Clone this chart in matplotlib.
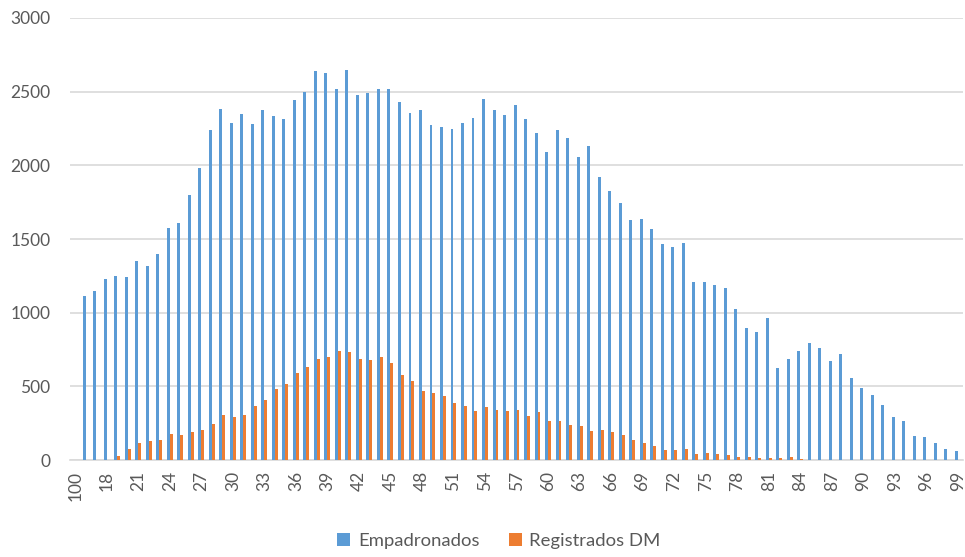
import numpy as np
import matplotlib
matplotlib.use("Agg")
import matplotlib.pyplot as plt

# === Data ===
# categories sorted as text in the source sheet: "100" first, then 16..99
ages = ["100"] + [str(a) for a in range(16, 100)]

empadronados = [
    0,                                                    # 100
    1115, 1145, 1230, 1250, 1240, 1351, 1319, 1399, 1573,  # 16-24
    1609, 1797, 1983, 2237, 2381, 2286, 2349, 2279, 2374,  # 25-33
    2336, 2315, 2444, 2499, 2639, 2628, 2519, 2646, 2478,  # 34-42
    2492, 2521, 2519, 2433, 2356, 2374, 2272, 2261, 2245,  # 43-51
    2288, 2324, 2451, 2379, 2343, 2410, 2315, 2222, 2091,  # 52-60
    2241, 2186, 2057, 2130, 1919, 1829, 1743, 1630, 1634,  # 61-69
    1566, 1464, 1448, 1471, 1211, 1207, 1186, 1166, 1027,  # 70-78
    893, 870, 966, 626, 687, 739, 793, 762, 671,           # 79-87
    721, 558, 490, 442, 374, 292, 263, 163, 158,           # 88-96
    116, 77, 63,                                           # 97-99
]

registrados_dm = [
    0,                                                    # 100
    0, 0, 0, 25, 73, 116, 129, 134, 179,                   # 16-24
    172, 190, 204, 245, 306, 292, 306, 365, 408,           # 25-33
    485, 517, 592, 630, 689, 700, 741, 734, 687,           # 34-42
    678, 698, 657, 578, 537, 469, 456, 433, 385,           # 43-51
    367, 331, 360, 342, 333, 340, 301, 324, 263,           # 52-60
    263, 238, 229, 197, 202, 188, 170, 134, 118,           # 61-69
    97, 70, 68, 75, 41, 48, 39, 34, 22,                    # 70-78
    22, 14, 14, 12, 18, 8, 3, 2, 2,                        # 79-87
    1, 1, 0, 0, 0, 0, 0, 0, 0,                             # 88-96
    0, 0, 0,                                               # 97-99
]

series_names = ["Empadronados", "Registrados DM"]
colors = ["#5B9BD5", "#ED7D31"]

# === Plot ===
plt.rcParams["font.family"] = ["Lato", "DejaVu Sans"]

fig = plt.figure(figsize=(9.65, 5.57), dpi=100)
ax = fig.add_axes([0.0725, 0.174, 0.9255, 0.7937])

x = np.arange(len(ages))
w = 0.28
ax.bar(x - w / 2, empadronados, width=w, color=colors[0], label=series_names[0], zorder=3)
ax.bar(x + w / 2, registrados_dm, width=w, color=colors[1], label=series_names[1], zorder=3)

ax.set_xlim(-0.5, len(ages) - 0.5)
ax.set_ylim(0, 3000)
ax.set_yticks(range(0, 3001, 500))
ax.set_xticks(x[::3])
ax.set_xticklabels(ages[::3], rotation=90)

ax.grid(axis="y", color="#D9D9D9", linewidth=1.2, zorder=0)
for side in ["left", "right", "top"]:
    ax.spines[side].set_visible(False)
ax.spines["bottom"].set_color("#D9D9D9")
ax.spines["bottom"].set_linewidth(1.2)
ax.tick_params(axis="both", length=0, colors="#595959", labelsize=12.5)
ax.tick_params(axis="y", pad=14)
ax.tick_params(axis="x", pad=8)

handles, labels = ax.get_legend_handles_labels()
leg = fig.legend(handles, labels, loc="center", bbox_to_anchor=(499 / 965, 1 - 541 / 557),
                 ncol=2, frameon=False, fontsize=13.3, handlelength=0.7, handleheight=0.7,
                 columnspacing=1.6, handletextpad=0.4)
for t in leg.get_texts():
    t.set_color("#595959")

fig.savefig("out.png", dpi=100)
